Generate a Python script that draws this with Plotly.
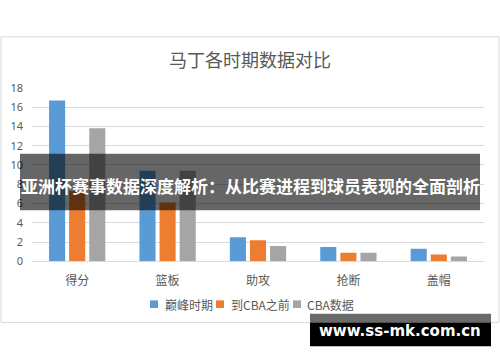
import plotly.graph_objects as go

categories = ["得分", "篮板", "助攻", "抢断", "盖帽"]
series_names = ["巅峰时期", "到CBA之前", "CBA数据"]
peak = [16.7, 9.4, 2.5, 1.5, 1.3]
before_cba = [7.3, 6.1, 2.2, 0.9, 0.7]
cba = [13.8, 9.4, 1.6, 0.9, 0.5]
y_ticks = [0, 2, 4, 6, 8, 10, 12, 14, 16, 18]
title_text = "马丁各时期数据对比"
banner_text = "亚洲杯赛事数据深度解析：从比赛进程到球员表现的全面剖析"
watermark_text = "www.ss-mk.com.cn"

colors = ["#5b9bd5", "#ed7d31", "#a5a5a5"]
W, H = 500, 362
CJK = "Noto Sans CJK SC"
TXT = "#595959"


def px(x):
    return x / W


def py(y):
    return 1 - y / H


fig = go.Figure()
for name, vals, c in zip(series_names, [peak, before_cba, cba], colors):
    fig.add_trace(go.Bar(x=categories, y=vals, name=name, marker=dict(color=c, line=dict(width=0)),
                         showlegend=False))

shapes = []
annotations = []
# chart border
shapes.append(dict(type="rect", xref="paper", yref="paper", x0=px(1), x1=px(499), y0=py(328), y1=py(30),
                   line=dict(color="#d9d9d9", width=1), fillcolor="rgba(0,0,0,0)", layer="below"))
# title
annotations.append(dict(text=title_text, xref="paper", yref="paper", x=px(250), y=py(53), showarrow=False,
                        xanchor="center", yanchor="middle", font=dict(family=CJK, size=18, color=TXT)))
# legend (manual)
leg_items = [(154, 163), (220, 229), (297, 305)]
for (mx, tx), name, c in zip(leg_items, series_names, colors):
    shapes.append(dict(type="rect", xref="paper", yref="paper", x0=px(mx - 4), x1=px(mx + 4),
                       y0=py(313), y1=py(305), fillcolor=c, line=dict(width=0)))
    annotations.append(dict(text=name, xref="paper", yref="paper", x=px(tx), y=py(309), showarrow=False,
                            xanchor="left", yanchor="middle", font=dict(family=CJK, size=12, color=TXT)))
# banner overlay
shapes.append(dict(type="rect", xref="paper", yref="paper", x0=px(20), x1=px(480), y0=py(211), y1=py(152),
                   fillcolor="rgba(0,0,0,0.6)", line=dict(width=0), layer="above"))
annotations.append(dict(text="<b>" + banner_text + "</b>", xref="paper", yref="paper", x=px(250), y=py(185),
                        showarrow=False, xanchor="center", yanchor="middle",
                        font=dict(family=CJK, size=17, color="white")))
# watermark
shapes.append(dict(type="rect", xref="paper", yref="paper", x0=px(310), x1=px(491), y0=py(328), y1=py(319),
                   fillcolor="#6a6a6a", line=dict(width=0), layer="above"))
shapes.append(dict(type="rect", xref="paper", yref="paper", x0=px(310), x1=px(491), y0=py(353), y1=py(328),
                   fillcolor="#000000", line=dict(width=0), layer="above"))
annotations.append(dict(text="<b>" + watermark_text + "</b>", xref="paper", yref="paper", x=px(400),
                        y=py(337), showarrow=False, xanchor="center", yanchor="middle",
                        font=dict(family="DejaVu Sans", size=15, color="white")))

fig.update_layout(
    width=W, height=H, autosize=False,
    margin=dict(l=0, r=0, t=0, b=0),
    paper_bgcolor="white", plot_bgcolor="white",
    barmode="group", bargap=0.333, bargroupgap=0.2,
    shapes=shapes, annotations=annotations,
    xaxis=dict(domain=[px(32), px(484)], showgrid=False, showline=True, linecolor="#d9d9d9", linewidth=1,
               ticks="", tickfont=dict(family=CJK, size=12, color=TXT), ticklabelstandoff=8,
               fixedrange=True),
    yaxis=dict(domain=[py(264.3), py(83.3)], range=[0, 18], tickvals=y_ticks, showgrid=True,
               gridcolor="#d9d9d9", gridwidth=1, zeroline=False, showline=False, ticks="",
               tickfont=dict(family="Noto Sans", size=11, color=TXT), ticklabelstandoff=8,
               fixedrange=True),
)

fig.write_html("out.html")
